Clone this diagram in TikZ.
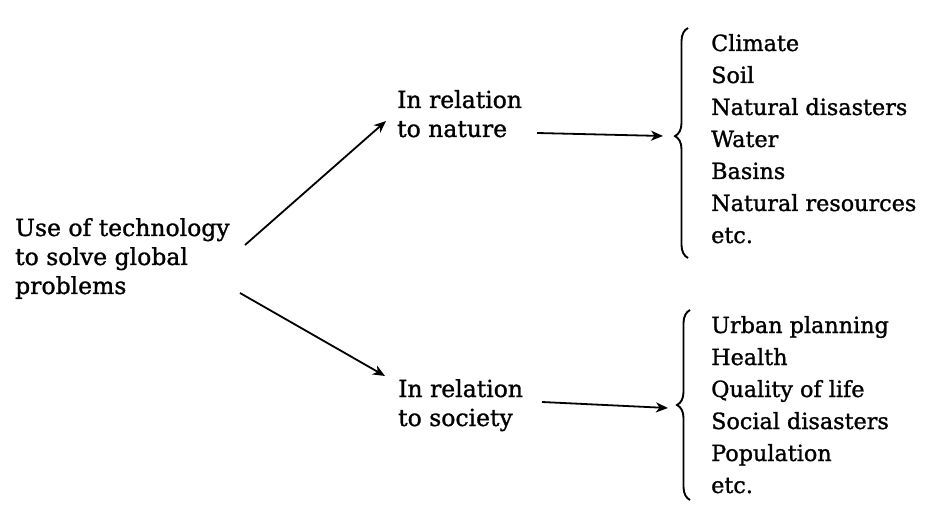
\documentclass[tikz,border=0pt]{standalone}
\usepackage{fontspec}
\setmainfont{DejaVu Serif}[FakeBold=1.2]
\usetikzlibrary{arrows.meta,decorations.pathreplacing,calc}
\begin{document}
\begin{tikzpicture}[x=1pt,y=1pt,
  txt/.style={inner sep=0pt,align=left,anchor=base west,font=\fontsize{23.5}{29}\selectfont},
  lst/.style={inner sep=0pt,align=left,anchor=base west,font=\fontsize{22.3}{32}\selectfont},
  conn/.style={line width=1.8pt,-{Stealth[length=12pt,width=10pt,inset=3.5pt]}},
  brc/.style={line width=1.9pt,decorate,decoration={brace,amplitude=13pt}}]
\useasboundingbox (0,0) rectangle (928,506);
% nodes: anchor = baseline of last line (y = 506 - pixel row)
\node[txt] (src) at (15,212) {Use of technology\\to solve global\\problems};
\node[txt] (nat) at (397,369) {In relation\\to nature};
\node[txt] (soc) at (398,80) {In relation\\to society};
\node[lst] (natl) at (711,263) {Climate\\Soil\\Natural disasters\\Water\\Basins\\Natural resources\\etc.};
\node[lst] (socl) at (711,13) {Urban planning\\Health\\Quality of life\\Social disasters\\Population\\etc.};
% braces
\coordinate (nb1) at (688,248);
\coordinate (nb2) at (688,478);
\coordinate (sb1) at (690,6);
\coordinate (sb2) at (690,196);
\draw[brc,decoration={aspect=0.53}] (nb1) -- (nb2);
\draw[brc,decoration={aspect=0.5}] (sb1) -- (sb2);
\coordinate (ntip) at (673,370);
\coordinate (stip) at (676,101);
% connectors
\draw[conn] ($(src.base west)+(230,49)$) -- ($(nat.base west)+(-11,16)$);
\draw[conn] ($(src.base west)+(225,1)$) -- ($(soc.base west)+(-13,50)$);
\draw[conn] ($(nat.base west)+(140,4)$) -- ($(ntip)+(-10,0)$);
\draw[conn] ($(soc.base west)+(144,24)$) -- ($(stip)+(-8,-3)$);
\end{tikzpicture}
\end{document}
